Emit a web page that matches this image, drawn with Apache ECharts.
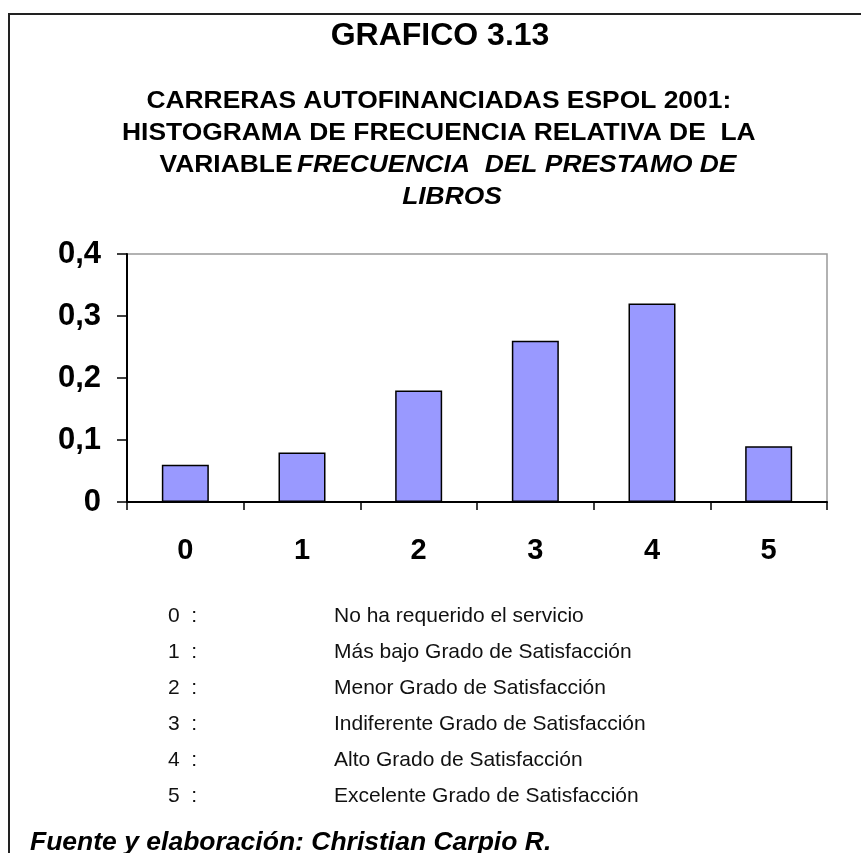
<!DOCTYPE html>
<html>
<head>
<meta charset="utf-8">
<title>GRAFICO 3.13</title>
<script src="https://cdn.jsdelivr.net/npm/echarts@6/dist/echarts.min.js"></script>
<style>
  html, body { margin: 0; padding: 0; background: #fff; }
  #main { width: 861px; height: 853px; }
</style>
</head>
<body>
<div id="main"></div>
<script>
// datos
var categorias = ['0', '1', '2', '3', '4', '5'];
var frecuencias = [0.06, 0.08, 0.18, 0.26, 0.32, 0.09];
var yTicks = [0, 0.1, 0.2, 0.3, 0.4];
var descripciones = [
  'No ha requerido el servicio',
  'Más bajo Grado de Satisfacción',
  'Menor Grado de Satisfacción',
  'Indiferente Grado de Satisfacción',
  'Alto Grado de Satisfacción',
  'Excelente Grado de Satisfacción'
];

var FONT = '"Liberation Sans", Arial, sans-serif';
var chart = echarts.init(document.getElementById('main'));

// textos de encabezado, leyenda y fuente
var textos = [];
textos.push({
  type: 'text', x: 440, y: 36,
  style: { text: 'GRAFICO 3.13', font: 'bold 32px ' + FONT, fill: '#000', align: 'center', verticalAlign: 'middle' }
});
var sub = [
  '{n|CARRERAS AUTOFINANCIADAS ESPOL 2001:}',
  '{n|HISTOGRAMA DE FRECUENCIA RELATIVA DE  LA}',
  '{n|VARIABLE}{i|FRECUENCIA  DEL PRESTAMO DE}',
  '{i|LIBROS}'
];
var subY = [101, 133, 165, 197];
var subX = [441, 441, 448, 452];
sub.forEach(function (s, i) {
  textos.push({
    type: 'text', x: subX[i], y: subY[i], scaleX: 1.1,
    style: {
      text: s, align: 'center', verticalAlign: 'middle', fill: '#000',
      rich: {
        n: { font: 'bold 24px ' + FONT, fill: '#000', padding: [0, 4, 0, 0] },
        i: { font: 'italic bold 24px ' + FONT, fill: '#000' }
      }
    }
  });
});
descripciones.forEach(function (d, i) {
  var y = 616 + i * 36;
  textos.push({
    type: 'text', x: 168, y: y,
    style: { text: categorias[i] + '  :', font: '21px ' + FONT, fill: '#111', verticalAlign: 'middle' }
  });
  textos.push({
    type: 'text', x: 334, y: y,
    style: { text: d, font: '21px ' + FONT, fill: '#111', verticalAlign: 'middle' }
  });
});
textos.push({
  type: 'text', x: 30, y: 843,
  style: { text: 'Fuente y elaboración: Christian Carpio R.', font: 'italic bold 26.5px ' + FONT, fill: '#000', verticalAlign: 'middle' }
});
// marco exterior
textos.push({
  type: 'rect', shape: { x: 9, y: 14, width: 900, height: 900 },
  style: { fill: 'none', stroke: '#222', lineWidth: 2 }, z: 10
});

var option = {
  backgroundColor: '#fff',
  animation: false,
  grid: {
    left: 127, right: 34, top: 254, bottom: 351,
    show: true, borderColor: '#999', borderWidth: 1.5
  },
  xAxis: {
    type: 'category',
    data: categorias,
    boundaryGap: true,
    axisLine: { lineStyle: { color: '#000', width: 2 } },
    axisTick: { show: true, alignWithLabel: false, length: 8, lineStyle: { color: '#000', width: 1.5 } },
    axisLabel: { margin: 34, fontFamily: FONT, fontSize: 29, fontWeight: 'bold', color: '#000' }
  },
  yAxis: {
    type: 'value',
    min: yTicks[0],
    max: yTicks[yTicks.length - 1],
    interval: 0.1,
    splitLine: { show: false },
    axisLine: { show: true, lineStyle: { color: '#000', width: 2 } },
    axisTick: { show: true, length: 10, lineStyle: { color: '#000', width: 1.5 } },
    axisLabel: {
      margin: 26, fontFamily: FONT, fontSize: 31, fontWeight: 'bold', color: '#000',
      formatter: function (v) { return v === 0 ? '0' : v.toFixed(1).replace('.', ','); }
    }
  },
  series: [{
    type: 'bar',
    data: frecuencias,
    barWidth: 47,
    itemStyle: { color: '#9999ff', borderColor: '#000', borderWidth: 1.5 }
  }],
  graphic: textos
};
chart.setOption(option);
</script>
</body>
</html>
